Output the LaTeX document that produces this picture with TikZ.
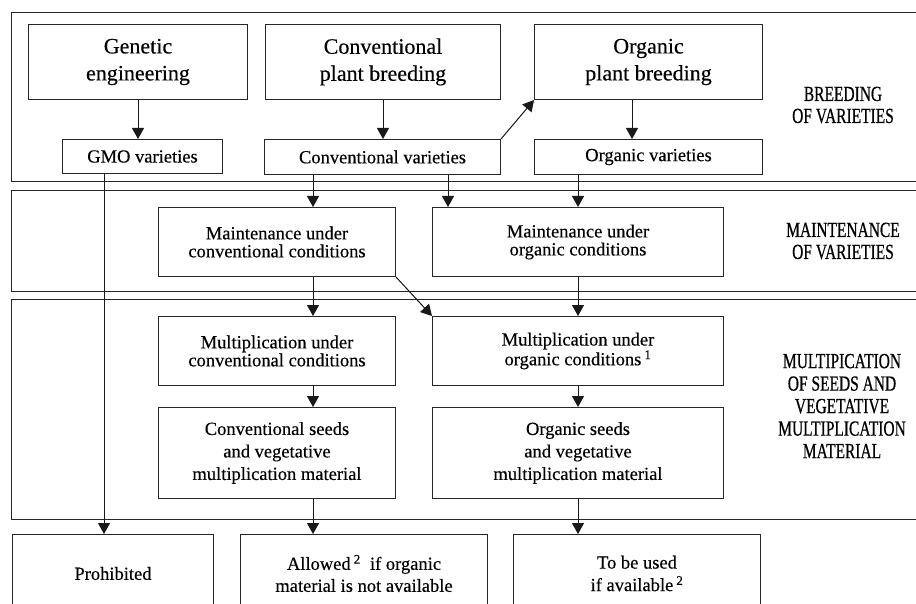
\documentclass[tikz,border=0pt]{standalone}
\usepackage{fontspec}
\setmainfont[FakeBold=0.3]{Liberation Serif}
\newfontfamily\stagefont[FakeStretch=0.72,FakeBold=0.6]{Liberation Serif}
\usetikzlibrary{
arrows.meta,
positioning,
calc
}

\begin{document}
\begin{tikzpicture}[
x=1pt,y=-1pt,
band/.style={
draw=black!85,
line width=1.1pt,
anchor=north west,
inner sep=0pt
},
bigbox/.style={
draw=black!85,
line width=1pt,
anchor=north west,
inner sep=0pt,
align=center,
font=\fontsize{22}{27}\selectfont
},
box/.style={
draw=black!85,
line width=1pt,
anchor=north west,
inner sep=0pt,
align=center,
font=\fontsize{18.5}{18}\selectfont
},
stage/.style={
align=center,
font=\stagefont\fontsize{21.5}{22}\selectfont
},
arrow/.style={-{Triangle[length=11pt,width=12pt]},line width=1pt,black!90}
]

\useasboundingbox (0,0) rectangle (916,604);
\fill[white] (0,0) rectangle (916,604);
\clip (0,0) rectangle (916,604);

\node[band,minimum width=925pt,minimum height=169pt] (breedband) at (11,12) {};
\node[band,minimum width=925pt,minimum height=101pt] (maintband) at (11,190) {};
\node[band,minimum width=925pt,minimum height=220pt] (multband) at (11,299) {};

\node[bigbox,minimum width=219pt,minimum height=75pt] (gen) at (28,24) {
Genetic\\
engineering
};

\node[bigbox,minimum width=235pt,minimum height=75pt] (conv) at (265,24) {
Conventional\\
plant breeding
};

\node[bigbox,minimum width=228pt,minimum height=75pt] (orgb) at (534,24) {
Organic\\
plant breeding
};

\node[box,minimum width=160pt,minimum height=34pt] (gmo) at (62,139) {GMO varieties};

\node[box,minimum width=236pt,minimum height=35pt] (convv) at (264,139) {Conventional varieties};

\node[box,minimum width=228pt,minimum height=35pt] (orgv) at (534,139) {Organic varieties};

\node[stage] (breedlabel) at (843,105) {
BREEDING\\
OF VARIETIES
};

\node[box,minimum width=237pt,minimum height=69pt] (mconv) at (158,207) {
Maintenance under\\
conventional conditions
};

\node[box,minimum width=291pt,minimum height=69pt] (morg) at (432,207) {
Maintenance under\\
organic conditions
};

\node[stage] (maintlabel) at (843,241) {
MAINTENANCE\\
OF VARIETIES
};

\node[box,minimum width=237pt,minimum height=69pt] (pconv) at (158,316) {
Multiplication under\\
conventional conditions
};

\node[box,minimum width=291pt,minimum height=69pt] (porg) at (432,316) {
Multiplication under\\
organic conditions\,\textsuperscript{1}
};

\node[box,minimum width=237pt,minimum height=91pt,font=\fontsize{18.5}{22.5}\selectfont] (sconv) at (158,407) {
Conventional seeds\\
and vegetative\\
multiplication material
};

\node[box,minimum width=291pt,minimum height=91pt,font=\fontsize{18.5}{22.5}\selectfont] (sorg) at (432,407) {
Organic seeds\\
and vegetative\\
multiplication material
};

\node[stage,font=\stagefont\fontsize{21.5}{22.5}\selectfont] (multlabel) at (842,406) {
MULTIPICATION\\
OF SEEDS AND\\
VEGETATIVE\\
MULTIPLICATION\\
MATERIAL
};

\node[box,minimum width=201pt,minimum height=78pt,font=\fontsize{18.5}{22}\selectfont] (proh) at (12,534) {Prohibited};

\node[box,minimum width=247pt,minimum height=78pt,font=\fontsize{18.5}{22}\selectfont] (allow) at (240,534) {
Allowed\,\textsuperscript{2}\ \ if organic\\
material is not available
};

\node[box,minimum width=247pt,minimum height=78pt,font=\fontsize{18.5}{22.5}\selectfont] (touse) at (513,534) {
To be used\\
if available\,\textsuperscript{2}
};

\coordinate (gmolane) at (104,0);
\coordinate (convlane) at (313,0);
\coordinate (sidelane) at (448,0);
\coordinate (orglane) at (578,0);
\coordinate (breedlane) at (632,0);

\draw[arrow] (gen.south) -- (gen.south |- gmo.north);
\draw[arrow] (conv.south) -- (conv.south |- convv.north);
\draw[arrow] (orgb.south -| breedlane) -- (orgv.north -| breedlane);
\draw[arrow] (convv.north east) -- (orgb.south west);

\draw[arrow] (gmo.south -| gmolane) -- (proh.north -| gmolane);
\draw[arrow] (convv.south -| convlane) -- (mconv.north -| convlane);
\draw[arrow] (convv.south -| sidelane) -- (morg.north -| sidelane);
\draw[arrow] (orgv.south -| orglane) -- (morg.north -| orglane);

\draw[arrow] (mconv.south -| convlane) -- (pconv.north -| convlane);
\draw[arrow] (mconv.south east) -- (porg.north west);
\draw[arrow] (morg.south -| orglane) -- (porg.north -| orglane);

\draw[arrow] (pconv.south -| convlane) -- (sconv.north -| convlane);
\draw[arrow] (porg.south -| orglane) -- (sorg.north -| orglane);
\draw[arrow] (sconv.south -| convlane) -- (allow.north -| convlane);
\draw[arrow] (sorg.south -| orglane) -- (touse.north -| orglane);

\end{tikzpicture}
\end{document}
